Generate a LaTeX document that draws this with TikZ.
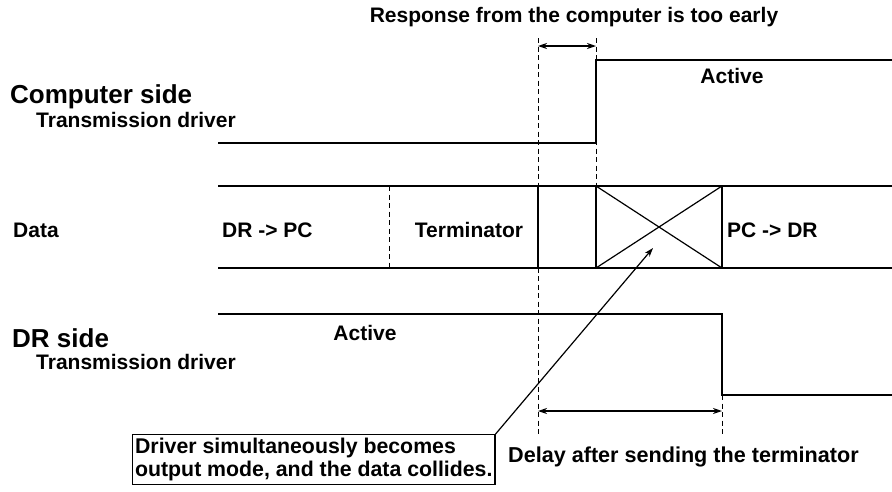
\documentclass[tikz,border=0pt]{standalone}
\usepackage{fontspec}
\setmainfont{Liberation Sans}
\usetikzlibrary{arrows.meta}
\begin{document}
\begin{tikzpicture}[x=1pt,y=-1pt,
  sig/.style={line width=1.2pt},
  guide/.style={line width=1pt,dash pattern=on 5pt off 3.5pt},
  tip/.style={-{Stealth[length=9pt,width=6pt]}},
  dim/.style={line width=1.2pt,{Stealth[length=9pt,width=6pt]}-{Stealth[length=9pt,width=6pt]}},
  lbl/.style={font=\fontsize{21}{23}\selectfont\bfseries,inner sep=0pt},
  notefont/.style={font=\fontsize{21.3}{23}\selectfont\bfseries},
  head/.style={font=\fontsize{26}{30}\selectfont\bfseries,inner sep=0pt}]
\useasboundingbox (0,0) rectangle (892,491);

% timing references
\coordinate (g1top) at (538,38);
\coordinate (g1bot) at (538,434);
\coordinate (g2top) at (596,38);
\coordinate (g2bot) at (596,186);
\coordinate (g3top) at (722,395);
\coordinate (g3bot) at (722,434);
\coordinate (g0top) at (389,186);
\coordinate (g0bot) at (389,268);

% computer side driver
\coordinate (c0) at (218,143);
\coordinate (c1) at (596,143);
\coordinate (c2) at (596,60);
\coordinate (c3) at (892,60);

% data lane
\coordinate (d0t) at (218,186);
\coordinate (d1t) at (892,186);
\coordinate (d0b) at (218,268);
\coordinate (d1b) at (892,268);
\coordinate (xa) at (596,186);
\coordinate (xb) at (722,268);
\coordinate (xc) at (596,268);
\coordinate (xd) at (722,186);
\coordinate (s0) at (538,186);
\coordinate (s1) at (538,268);

% DR side driver
\coordinate (r0) at (218,314);
\coordinate (r1) at (722,314);
\coordinate (r2) at (722,395);
\coordinate (r3) at (892,395);

% dimension arrows
\coordinate (e0) at (538,46);
\coordinate (e1) at (596,46);
\coordinate (f0) at (538,411);
\coordinate (f1) at (722,411);
\coordinate (hit) at (653,248);

% guide lines
\draw[guide] (g1top) -- (g1bot);
\draw[guide] (g2top) -- (g2bot);
\draw[guide] (g3top) -- (g3bot);
\draw[guide] (g0top) -- (g0bot);

% signals
\draw[sig] (c0) -- (c1) -- (c2) -- (c3);
\draw[sig] (d0t) -- (d1t);
\draw[sig] (d0b) -- (d1b);
\draw[sig] (s0) -- (s1);
\draw[sig] (xa) rectangle (xb);
\draw[sig] (xa) -- (xb);
\draw[sig] (xc) -- (xd);
\draw[sig] (r0) -- (r1) -- (r2) -- (r3);

\draw[dim] (e0) -- (e1);
\draw[dim] (f0) -- (f1);

% texts
\node[lbl,anchor=base] (title) at (574,22) {Response from the computer is too early};
\node[head,anchor=base west] (comp) at (10,103) {Computer side};
\node[lbl,anchor=base west] (comptx) at (36,127) {Transmission driver};
\node[lbl,anchor=base] (act1) at (732,83) {Active};

\node[lbl,anchor=base west] (data) at (13,237) {Data};
\node[lbl,anchor=base west] (drpc) at (222,237) {DR -> PC};
\node[lbl,anchor=base] (term) at (469,237) {Terminator};
\node[lbl,anchor=base west] (pcdr) at (727,237) {PC -> DR};

\node[head,anchor=base west] (dr) at (12,347) {DR side};
\node[lbl,anchor=base west] (drtx) at (36,369) {Transmission driver};
\node[lbl,anchor=base] (act2) at (365,340) {Active};

\node[lbl,font=\fontsize{21.6}{23}\selectfont\bfseries,anchor=base west] (delay) at (508,462)
  {Delay after sending the terminator};

\node[notefont,draw,line width=1.2pt,anchor=north west,inner xsep=2.5pt,inner ysep=3.5pt,
      align=left] (note) at (132,434)
  {Driver simultaneously becomes\\output mode, and the data collides.};
\draw[sig,tip] (note.north east) -- (hit);
\end{tikzpicture}
\end{document}
